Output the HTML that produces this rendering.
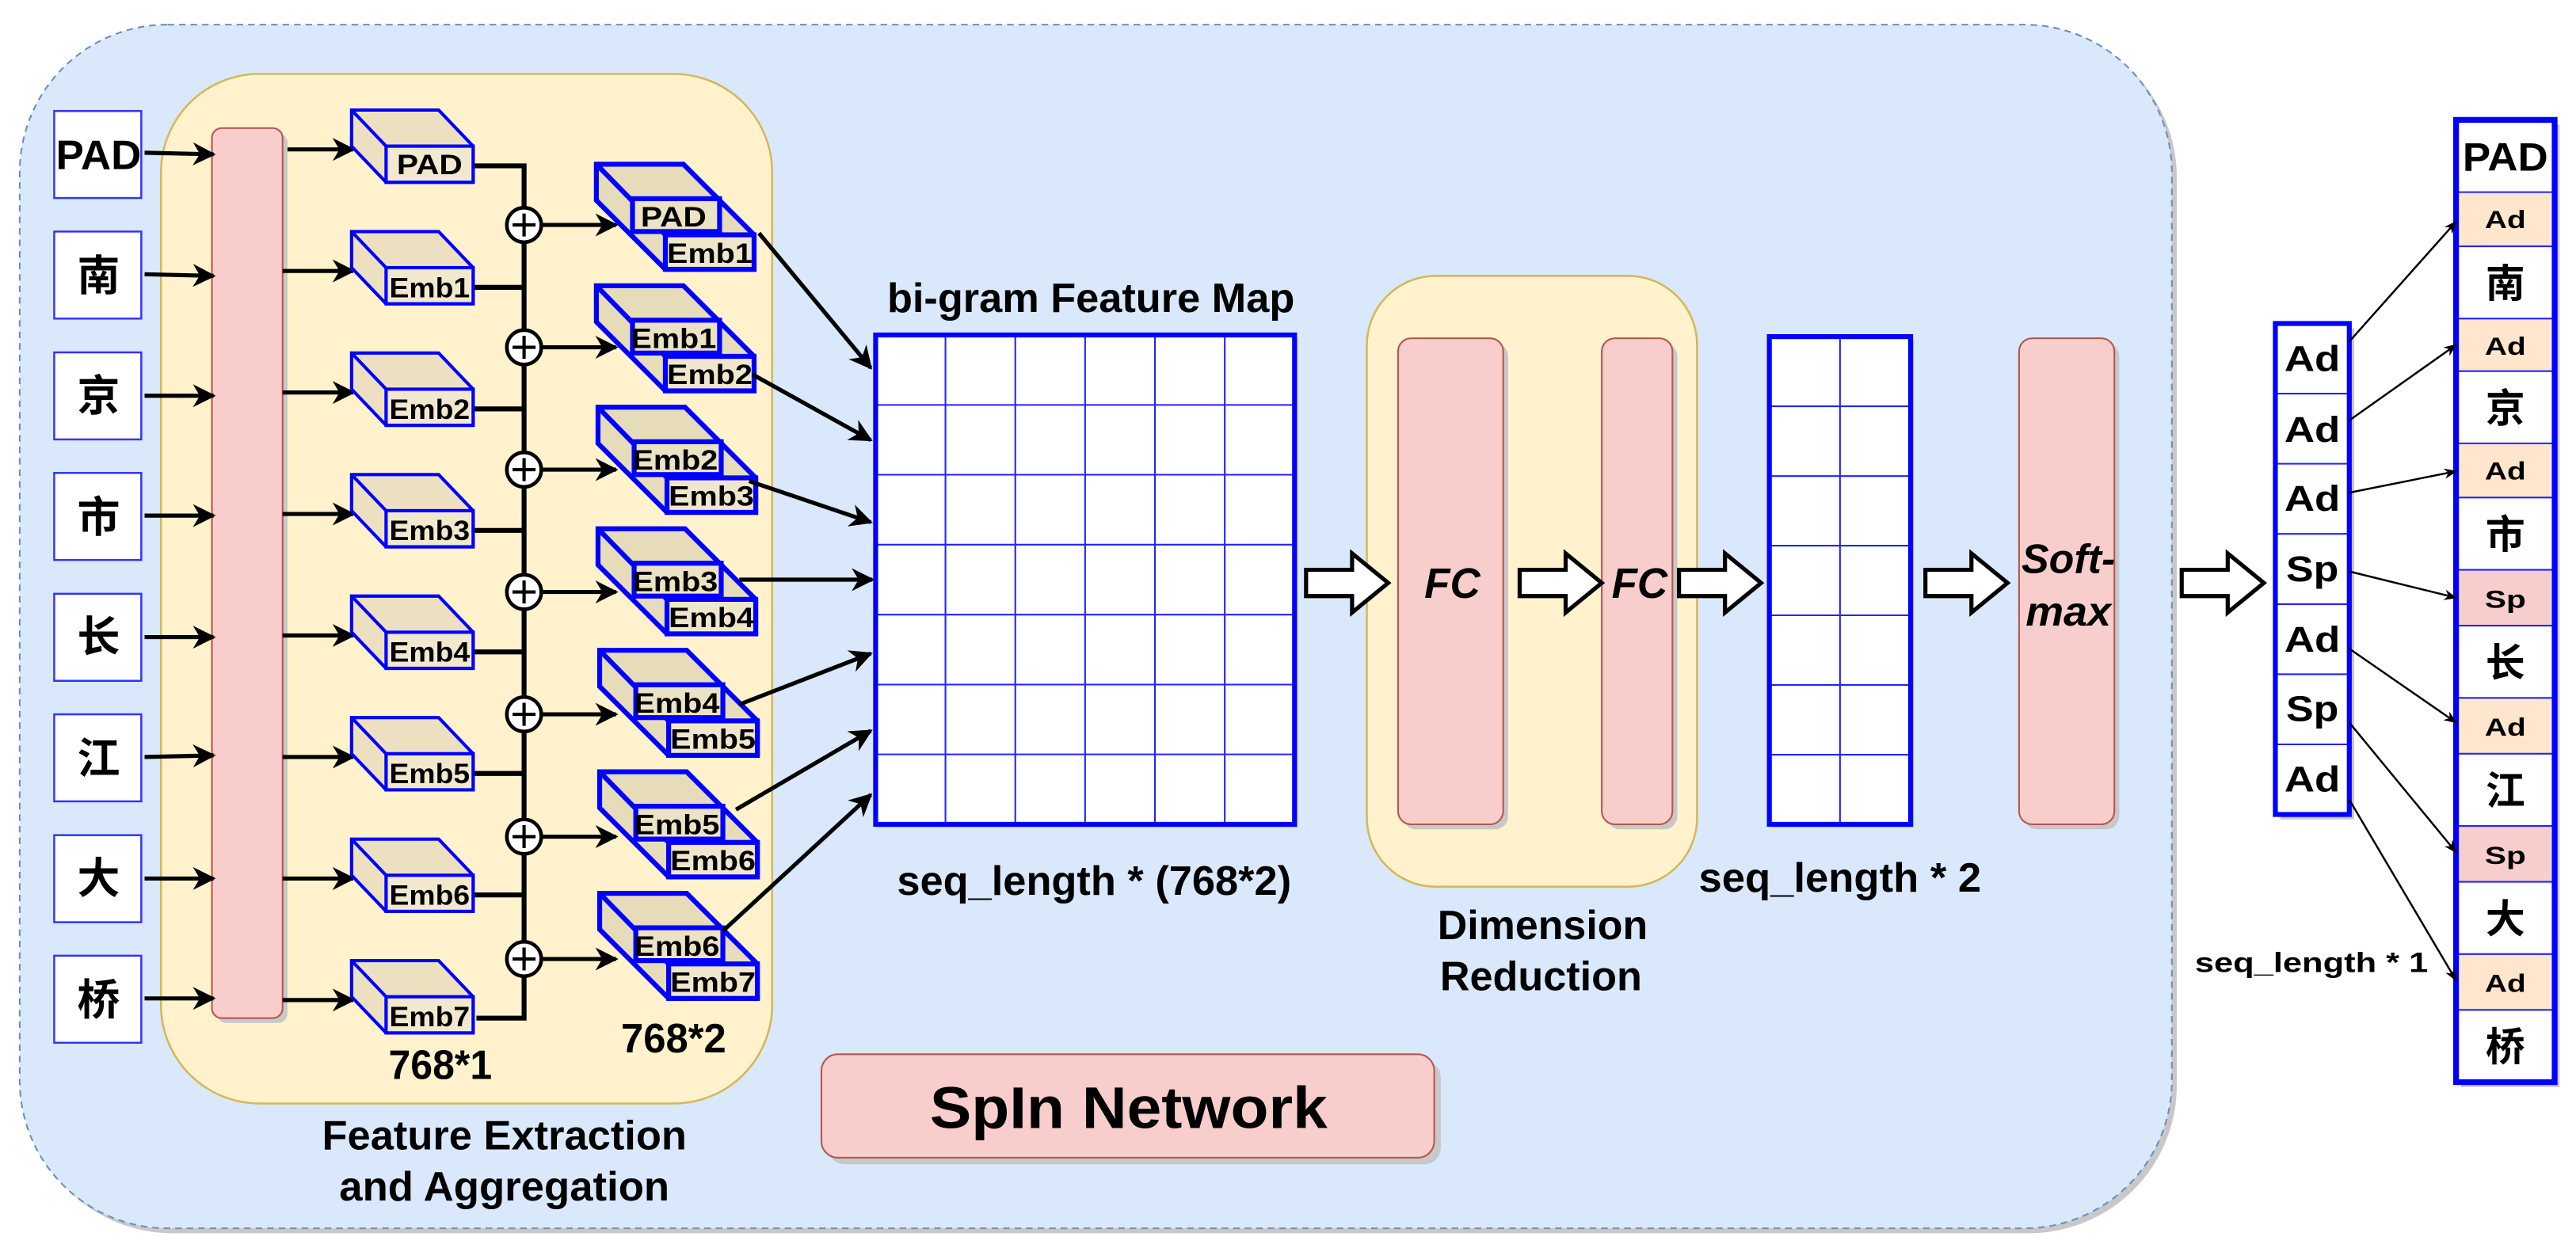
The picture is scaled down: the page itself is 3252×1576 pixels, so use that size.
<!DOCTYPE html>
<html><head><meta charset="utf-8"><style>
html,body{margin:0;padding:0;background:#fff;}
svg{display:block;}
text{font-family:"Liberation Sans","Noto Sans CJK SC",sans-serif;font-weight:bold;text-anchor:middle;}
</style></head><body>
<svg width="3252" height="1576" viewBox="0 0 1568 760" preserveAspectRatio="none" xmlns="http://www.w3.org/2000/svg">
<defs>
<marker id="ah" viewBox="0 0 10 10" refX="9" refY="5" markerWidth="5" markerHeight="5" orient="auto" markerUnits="userSpaceOnUse"><path d="M0,0 L10,5 L0,10 L3,5z" fill="#000"/></marker>
<marker id="ab" viewBox="0 0 10 10" refX="9" refY="5" markerWidth="14" markerHeight="14" orient="auto" markerUnits="userSpaceOnUse"><path d="M0,0 L10,5 L0,10 L3,5z" fill="#000"/></marker>
<marker id="as" viewBox="0 0 10 10" refX="9" refY="5" markerWidth="11" markerHeight="8" orient="auto" markerUnits="userSpaceOnUse"><path d="M0,1 L10,5 L0,9 L3,5z" fill="#000"/></marker>
<g id="cube"><path d="M0,0 L53,0 L74,22 L74,44 L21,44 L0,22Z" fill="#ece0c0" stroke="#0000ff" stroke-width="2"/><path d="M0,0 L21,22" stroke="#0000ff" stroke-width="2" fill="none"/><rect x="21" y="22" width="53" height="22" fill="#f2e8ce" stroke="#0000ff" stroke-width="2"/></g>
<g id="dcube"><path d="M0,0 L53,0 L96,43 L96,64 L42,64 L0,22Z" fill="#e6dcba" stroke="#0000ff" stroke-width="3"/><path d="M0,0 L42,43" stroke="#0000ff" stroke-width="3" fill="none"/><rect x="22" y="21" width="53" height="20" fill="#ece2c4" stroke="#0000ff" stroke-width="3"/><rect x="42" y="43" width="54" height="21" fill="#f0e6cc" stroke="#0000ff" stroke-width="3"/></g>
<g id="harrow"><path d="M0,-8 L28,-8 L28,-18 L50,0 L28,18 L28,8 L0,8Z" fill="#fff" stroke="#000" stroke-width="2.5"/></g>
</defs>

<rect x="15" y="18" width="1310" height="733" rx="90" fill="#c8c8c8"/>
<rect x="12" y="15" width="1310" height="733" rx="90" fill="#dae8fc" stroke="#6c8ebf" stroke-width="1" stroke-dasharray="4,3"/>

<rect x="98" y="45" width="372" height="627" rx="60" fill="#fff2cc" stroke="#d6b656" stroke-width="1.2"/>

<g fill="#fff" stroke="#3333ff" stroke-width="1.2">
<rect x="33" y="67.6" width="53" height="53"/><rect x="33" y="141" width="53" height="53"/><rect x="33" y="214.6" width="53" height="53"/><rect x="33" y="288" width="53" height="53"/><rect x="33" y="361.6" width="53" height="53"/><rect x="33" y="435" width="53" height="53"/><rect x="33" y="508.6" width="53" height="53"/><rect x="33" y="582" width="53" height="53"/>
</g>
<text x="60" y="103" font-size="25" textLength="52" lengthAdjust="spacingAndGlyphs">PAD</text>
<g font-size="26"><text x="60" y="177">南</text><text x="60" y="250">京</text><text x="60" y="324">市</text><text x="60" y="397">长</text><text x="60" y="471">江</text><text x="60" y="544">大</text><text x="60" y="618">桥</text></g>

<rect x="132" y="81" width="43" height="542" rx="6" fill="#c8c8c8"/>
<rect x="129" y="78" width="43" height="542" rx="6" fill="#f8cecc" stroke="#b85450" stroke-width="1"/>

<g stroke="#000" stroke-width="2.5" marker-end="url(#ab)">
<line x1="88" y1="93" x2="130" y2="94"/><line x1="88" y1="167" x2="130" y2="168"/><line x1="88" y1="241" x2="130" y2="241"/><line x1="88" y1="314" x2="130" y2="314"/><line x1="88" y1="388" x2="130" y2="388"/><line x1="88" y1="461" x2="130" y2="460"/><line x1="88" y1="535" x2="130" y2="535"/><line x1="88" y1="608" x2="130" y2="608"/>
</g>
<g stroke="#000" stroke-width="2.5" marker-end="url(#ab)">
<line x1="175" y1="91" x2="215" y2="91"/><line x1="172" y1="165" x2="215" y2="165"/><line x1="172" y1="239" x2="215" y2="239"/><line x1="172" y1="313" x2="215" y2="313"/><line x1="172" y1="387" x2="215" y2="387"/><line x1="172" y1="461" x2="215" y2="461"/><line x1="172" y1="535" x2="215" y2="535"/><line x1="172" y1="609" x2="215" y2="609"/>
</g>

<use href="#cube" x="214" y="67"/><use href="#cube" x="214" y="141"/><use href="#cube" x="214" y="215"/><use href="#cube" x="214" y="289"/><use href="#cube" x="214" y="363"/><use href="#cube" x="214" y="437"/><use href="#cube" x="214" y="511"/><use href="#cube" x="214" y="585"/>
<g font-size="17">
<text x="261.5" y="106" textLength="40" lengthAdjust="spacingAndGlyphs">PAD</text>
<text x="261.5" y="181" textLength="49" lengthAdjust="spacingAndGlyphs">Emb1</text>
<text x="261.5" y="255" textLength="49" lengthAdjust="spacingAndGlyphs">Emb2</text>
<text x="261.5" y="329" textLength="49" lengthAdjust="spacingAndGlyphs">Emb3</text>
<text x="261.5" y="403" textLength="49" lengthAdjust="spacingAndGlyphs">Emb4</text>
<text x="261.5" y="477" textLength="49" lengthAdjust="spacingAndGlyphs">Emb5</text>
<text x="261.5" y="551" textLength="49" lengthAdjust="spacingAndGlyphs">Emb6</text>
<text x="261.5" y="625" textLength="49" lengthAdjust="spacingAndGlyphs">Emb7</text></g>

<g stroke="#000" stroke-width="3" fill="none">
<path d="M289,101 H319 V620 H290"/>
<line x1="289" y1="175" x2="319" y2="175"/><line x1="289" y1="249" x2="319" y2="249"/><line x1="289" y1="323" x2="319" y2="323"/><line x1="289" y1="397" x2="319" y2="397"/><line x1="289" y1="471" x2="319" y2="471"/><line x1="289" y1="545" x2="319" y2="545"/>
</g>
<g fill="#fff" stroke="#000" stroke-width="2.2">
<circle cx="319" cy="137" r="10.5"/><circle cx="319" cy="211.5" r="10.5"/><circle cx="319" cy="286" r="10.5"/><circle cx="319" cy="360.5" r="10.5"/><circle cx="319" cy="435" r="10.5"/><circle cx="319" cy="509.5" r="10.5"/><circle cx="319" cy="584" r="10.5"/>
</g>
<g stroke="#000" stroke-width="2">
<path d="M312,137h14M319,130v14M312,211.5h14M319,204.5v14M312,286h14M319,279v14M312,360.5h14M319,353.5v14M312,435h14M319,428v14M312,509.5h14M319,502.5v14M312,584h14M319,577v14"/>
</g>
<g stroke="#000" stroke-width="2.5" marker-end="url(#ab)">
<line x1="330" y1="137" x2="375" y2="137"/><line x1="330" y1="211.5" x2="375" y2="211.5"/><line x1="330" y1="286" x2="375" y2="286"/><line x1="330" y1="360.5" x2="375" y2="360.5"/><line x1="330" y1="435" x2="375" y2="435"/><line x1="330" y1="509.5" x2="375" y2="509.5"/><line x1="330" y1="584" x2="375" y2="584"/>
</g>

<use href="#dcube" x="363" y="100"/><use href="#dcube" x="363" y="174"/><use href="#dcube" x="364" y="248"/><use href="#dcube" x="364" y="322"/><use href="#dcube" x="365" y="396"/><use href="#dcube" x="365" y="470"/><use href="#dcube" x="365" y="544"/>
<g font-size="17">
<text x="410" y="138" textLength="40" lengthAdjust="spacingAndGlyphs">PAD</text><text x="432" y="160" textLength="52" lengthAdjust="spacingAndGlyphs">Emb1</text>
<text x="410" y="212" textLength="52" lengthAdjust="spacingAndGlyphs">Emb1</text><text x="432" y="234" textLength="52" lengthAdjust="spacingAndGlyphs">Emb2</text>
<text x="411" y="286" textLength="52" lengthAdjust="spacingAndGlyphs">Emb2</text><text x="433" y="308" textLength="52" lengthAdjust="spacingAndGlyphs">Emb3</text>
<text x="411" y="360" textLength="52" lengthAdjust="spacingAndGlyphs">Emb3</text><text x="433" y="382" textLength="52" lengthAdjust="spacingAndGlyphs">Emb4</text>
<text x="412" y="434" textLength="52" lengthAdjust="spacingAndGlyphs">Emb4</text><text x="434" y="456" textLength="52" lengthAdjust="spacingAndGlyphs">Emb5</text>
<text x="412" y="508" textLength="52" lengthAdjust="spacingAndGlyphs">Emb5</text><text x="434" y="530" textLength="52" lengthAdjust="spacingAndGlyphs">Emb6</text>
<text x="412" y="582" textLength="52" lengthAdjust="spacingAndGlyphs">Emb6</text><text x="434" y="604" textLength="52" lengthAdjust="spacingAndGlyphs">Emb7</text>
</g>
<g font-size="25">
<text x="268" y="657" textLength="63" lengthAdjust="spacingAndGlyphs">768*1</text>
<text x="410" y="641" textLength="64" lengthAdjust="spacingAndGlyphs">768*2</text>
<text x="307" y="700" textLength="222" lengthAdjust="spacingAndGlyphs">Feature Extraction</text>
<text x="307" y="731" textLength="201" lengthAdjust="spacingAndGlyphs">and Aggregation</text></g>

<g stroke="#000" stroke-width="2.5" marker-end="url(#ab)">
<line x1="462" y1="142" x2="530" y2="224"/><line x1="458" y1="228" x2="530" y2="268"/><line x1="456" y1="293" x2="530" y2="318"/><line x1="450" y1="353" x2="531" y2="353"/><line x1="450" y1="429" x2="530" y2="398"/><line x1="448" y1="493" x2="530" y2="445"/><line x1="440" y1="567" x2="530" y2="484"/>
</g>

<rect x="535" y="206" width="255" height="298" fill="#c8c8c8"/>
<rect x="533" y="204" width="255" height="298" fill="#fff"/>
<g stroke="#2222ff" stroke-width="1">
<path d="M575.5,204V502M618,204V502M660.5,204V502M703,204V502M745.5,204V502M533,246.6H788M533,289.1H788M533,331.7H788M533,374.3H788M533,416.9H788M533,459.4H788"/>
</g>
<rect x="533" y="204" width="255" height="298" fill="none" stroke="#0000ff" stroke-width="3"/>
<g font-size="25">
<text x="664" y="190" textLength="248" lengthAdjust="spacingAndGlyphs">bi-gram Feature Map</text>
<text x="666" y="545" textLength="240" lengthAdjust="spacingAndGlyphs">seq_length * (768*2)</text>
</g>

<rect x="832" y="168" width="201" height="372" rx="42" fill="#fff2cc" stroke="#d6b656" stroke-width="1.2"/>
<rect x="854" y="209" width="64" height="296" rx="8" fill="#c8c8c8"/>
<rect x="851" y="206" width="64" height="296" rx="8" fill="#f8cecc" stroke="#b85450" stroke-width="1"/>
<rect x="978" y="209" width="43" height="296" rx="8" fill="#c8c8c8"/>
<rect x="975" y="206" width="43" height="296" rx="8" fill="#f8cecc" stroke="#b85450" stroke-width="1"/>
<g font-size="26" font-style="italic"><text x="884" y="364" textLength="34" lengthAdjust="spacingAndGlyphs">FC</text><text x="998" y="364" textLength="34" lengthAdjust="spacingAndGlyphs">FC</text></g>
<g font-size="25">
<text x="939" y="572" textLength="128" lengthAdjust="spacingAndGlyphs">Dimension</text>
<text x="938" y="603" textLength="123" lengthAdjust="spacingAndGlyphs">Reduction</text>
<text x="1120" y="543" textLength="172" lengthAdjust="spacingAndGlyphs">seq_length * 2</text></g>

<rect x="1079" y="207" width="86" height="297" fill="#c8c8c8"/>
<rect x="1077" y="205" width="86" height="297" fill="#fff"/>
<g stroke="#2222ff" stroke-width="1"><path d="M1120,205V502M1077,247.4H1163M1077,289.9H1163M1077,332.3H1163M1077,374.7H1163M1077,417.1H1163M1077,459.6H1163"/></g>
<rect x="1077" y="205" width="86" height="297" fill="none" stroke="#0000ff" stroke-width="3"/>

<rect x="1232" y="209" width="58" height="296" rx="8" fill="#c8c8c8"/>
<rect x="1229" y="206" width="58" height="296" rx="8" fill="#f8cecc" stroke="#b85450" stroke-width="1"/>
<g font-size="25" font-style="italic"><text x="1259" y="349" textLength="57" lengthAdjust="spacingAndGlyphs">Soft-</text><text x="1259" y="381" textLength="52" lengthAdjust="spacingAndGlyphs">max</text></g>

<use href="#harrow" x="795" y="355"/><use href="#harrow" x="925" y="355"/><use href="#harrow" x="1022" y="355"/><use href="#harrow" x="1172" y="355"/><use href="#harrow" x="1328" y="355"/>

<rect x="504" y="646" width="373" height="63" rx="10" fill="#c8c8c8"/>
<rect x="500" y="642" width="373" height="63" rx="10" fill="#f8cecc" stroke="#b85450" stroke-width="1"/>
<text x="687" y="687" font-size="36" textLength="242" lengthAdjust="spacingAndGlyphs">SpIn Network</text>

<rect x="1388" y="200" width="45" height="299" fill="#c8c8c8"/>
<rect x="1385" y="197" width="45" height="299" fill="#fff"/>
<g stroke="#2222ff" stroke-width="1"><path d="M1385,239.7H1430M1385,282.4H1430M1385,325.1H1430M1385,367.9H1430M1385,410.6H1430M1385,453.3H1430"/></g>
<rect x="1385" y="197" width="45" height="299" fill="none" stroke="#0000ff" stroke-width="3"/>
<g font-size="22">
<text x="1407.5" y="226" textLength="34" lengthAdjust="spacingAndGlyphs">Ad</text><text x="1407.5" y="269" textLength="34" lengthAdjust="spacingAndGlyphs">Ad</text><text x="1407.5" y="311" textLength="34" lengthAdjust="spacingAndGlyphs">Ad</text><text x="1407.5" y="354" textLength="32" lengthAdjust="spacingAndGlyphs">Sp</text><text x="1407.5" y="397" textLength="34" lengthAdjust="spacingAndGlyphs">Ad</text><text x="1407.5" y="439" textLength="32" lengthAdjust="spacingAndGlyphs">Sp</text><text x="1407.5" y="482" textLength="34" lengthAdjust="spacingAndGlyphs">Ad</text></g>
<text x="1407" y="592" font-size="17" textLength="142" lengthAdjust="spacingAndGlyphs">seq_length * 1</text>

<rect x="1498" y="76" width="60" height="586" fill="#c8c8c8"/>
<rect x="1495" y="73" width="60" height="586" fill="#fff"/>
<g stroke="none">
<rect x="1497" y="117" width="56" height="33" fill="#ffe6cc"/>
<rect x="1497" y="194" width="56" height="32" fill="#ffe6cc"/>
<rect x="1497" y="270" width="56" height="33" fill="#ffe6cc"/>
<rect x="1497" y="347" width="56" height="34" fill="#f8cecc"/>
<rect x="1497" y="425" width="56" height="34" fill="#ffe6cc"/>
<rect x="1497" y="503" width="56" height="34" fill="#f8cecc"/>
<rect x="1497" y="581" width="56" height="34" fill="#ffe6cc"/>
</g>
<g stroke="#2222ff" stroke-width="1"><path d="M1495,117H1555M1495,150H1555M1495,194H1555M1495,226H1555M1495,270H1555M1495,303H1555M1495,347H1555M1495,381H1555M1495,425H1555M1495,459H1555M1495,503H1555M1495,537H1555M1495,581H1555M1495,615H1555"/></g>
<rect x="1495" y="73" width="60" height="586" fill="none" stroke="#0000ff" stroke-width="3.5"/>
<text x="1525" y="104" font-size="24" textLength="52" lengthAdjust="spacingAndGlyphs">PAD</text>
<g font-size="15"><text x="1525" y="139" textLength="25" lengthAdjust="spacingAndGlyphs">Ad</text><text x="1525" y="216" textLength="25" lengthAdjust="spacingAndGlyphs">Ad</text><text x="1525" y="292" textLength="25" lengthAdjust="spacingAndGlyphs">Ad</text><text x="1525" y="370" textLength="25" lengthAdjust="spacingAndGlyphs">Sp</text><text x="1525" y="448" textLength="25" lengthAdjust="spacingAndGlyphs">Ad</text><text x="1525" y="526" textLength="25" lengthAdjust="spacingAndGlyphs">Sp</text><text x="1525" y="604" textLength="25" lengthAdjust="spacingAndGlyphs">Ad</text></g>
<g font-size="24"><text x="1525" y="181">南</text><text x="1525" y="257">京</text><text x="1525" y="334">市</text><text x="1525" y="412">长</text><text x="1525" y="490">江</text><text x="1525" y="568">大</text><text x="1525" y="646">桥</text></g>

<g stroke="#000" stroke-width="1.2" marker-end="url(#as)">
<line x1="1430" y1="208" x2="1495" y2="135"/><line x1="1430" y1="256" x2="1495" y2="210"/><line x1="1430" y1="300" x2="1495" y2="287"/><line x1="1430" y1="348" x2="1495" y2="364"/><line x1="1430" y1="395" x2="1495" y2="440"/><line x1="1430" y1="440" x2="1495" y2="519"/><line x1="1430" y1="487" x2="1495" y2="597"/>
</g>
</svg>
</body></html>
